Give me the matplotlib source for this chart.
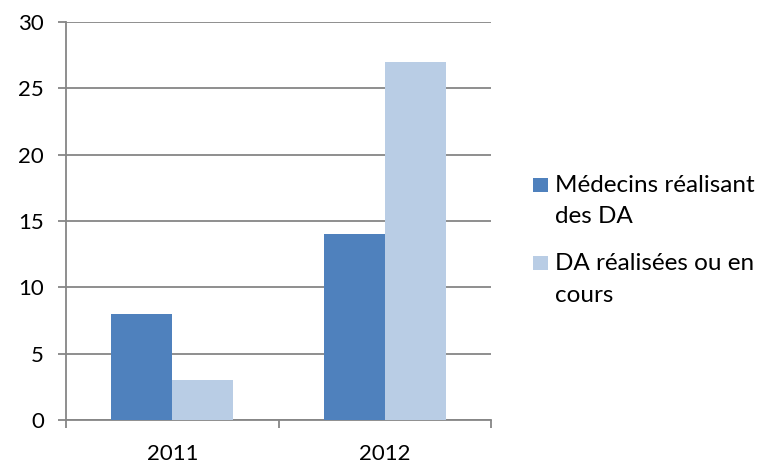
import matplotlib
matplotlib.use("Agg")
import matplotlib.pyplot as plt
from matplotlib.patches import Rectangle
import numpy as np

years = ["2011", "2012"]
medecins = [8, 14]
da = [3, 27]
series_labels = [["Médecins réalisant", "des DA"], ["DA réalisées ou en", "cours"]]
colors = ["#4F81BD", "#B9CDE5"]
yticks = [0, 5, 10, 15, 20, 25, 30]

plt.rcParams['font.family'] = ['Lato', 'DejaVu Sans']
W, H = 764, 470
fig = plt.figure(figsize=(W/100, H/100), dpi=100)
ax = fig.add_axes([66/W, 1-420/H, (491-66)/W, (420-22)/H])

x = np.arange(len(years))
w = 0.287
ax.bar(x - w/2, medecins, width=w, color=colors[0], zorder=3)
ax.bar(x + w/2, da, width=w, color=colors[1], zorder=3)

ax.set_xlim(-0.5, 1.5)
ax.set_ylim(0, 30)
ax.set_yticks(yticks)
grid_c = "#868686"
ax.yaxis.grid(True, color=grid_c, linewidth=1.3, zorder=0)
for s in ["top", "right"]:
    ax.spines[s].set_visible(False)
for s in ["left", "bottom"]:
    ax.spines[s].set_color(grid_c)
    ax.spines[s].set_linewidth(1.3)

ax.set_xticks([-0.5, 0.5, 1.5])
ax.set_xticklabels([])
ax.set_xticks(x, minor=True)
ax.set_xticklabels(years, minor=True)
ax.tick_params(axis='x', which='major', length=6, width=1.3, color=grid_c, direction='out')
ax.tick_params(axis='x', which='minor', length=0, pad=17, labelsize=16)
ax.tick_params(axis='y', length=6, width=1.3, color=grid_c, direction='out', pad=10, labelsize=16)

# legend (manual, handle aligned with first text line)
leg_fs = 17.5
item_baselines = [(192, 223), (270, 302)]
for c, lines, bls in zip(colors, series_labels, item_baselines):
    b1 = bls[0]
    fig.add_artist(Rectangle((533/W, 1-(b1)/H), 15/W, 14/H, transform=fig.transFigure,
                             facecolor=c, edgecolor='none'))
    for txt, bl in zip(lines, bls):
        fig.text(555/W, 1-bl/H, txt, fontsize=leg_fs, va='baseline', ha='left')

fig.savefig("out.png", dpi=100)
